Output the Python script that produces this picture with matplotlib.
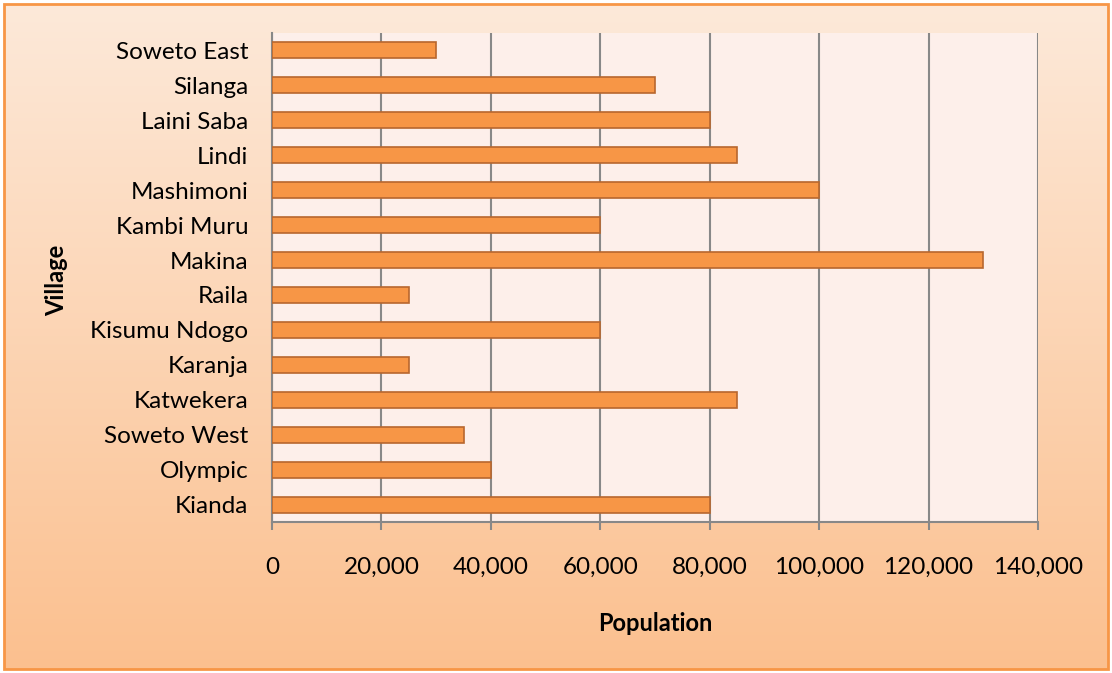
import matplotlib
matplotlib.use("Agg")
import matplotlib.pyplot as plt
import numpy as np
from matplotlib.patches import Rectangle
from matplotlib.colors import LinearSegmentedColormap
from matplotlib.ticker import FuncFormatter

villages = ["Kianda", "Olympic", "Soweto West", "Katwekera", "Karanja", "Kisumu Ndogo",
            "Raila", "Makina", "Kambi Muru", "Mashimoni", "Lindi", "Laini Saba",
            "Silanga", "Soweto East"]
population = [80000, 40000, 35000, 85000, 25000, 60000, 25000, 130000, 60000,
              100000, 85000, 80000, 70000, 30000]
x_ticks = [0, 20000, 40000, 60000, 80000, 100000, 120000, 140000]

plt.rcParams['font.family'] = ['Lato', 'DejaVu Sans']

W, H = 1112, 673
fig = plt.figure(figsize=(W / 100, H / 100), dpi=100)
fig.patch.set_facecolor("white")

# gradient background
bg = fig.add_axes([4 / W, 4 / H, (W - 8) / W, (H - 8) / H], zorder=0)
cmap = LinearSegmentedColormap.from_list("g", ["#FDE9D9", "#FBC08F"])
grad = np.linspace(0, 1, 256).reshape(-1, 1)
bg.imshow(grad, aspect="auto", cmap=cmap, extent=[0, 1, 0, 1], origin="upper")
bg.set_xlim(0, 1)
bg.set_ylim(0, 1)
bg.set_axis_off()
fig.add_artist(Rectangle((4 / W, 4 / H), (W - 8) / W, (H - 8) / H,
                         transform=fig.transFigure, fill=False,
                         edgecolor="#F79646", linewidth=2, zorder=5))

left, right, top, bottom = 272, 1038, 33, 522
ax = fig.add_axes([left / W, 1 - bottom / H, (right - left) / W, (bottom - top) / H], zorder=2)
ax.set_facecolor("#FDEFEA")
y = np.arange(len(villages))
ax.barh(y, population, height=0.46, color="#F79646", edgecolor="#B8672E", linewidth=1.2, zorder=3)
ax.set_yticks(y)
ax.set_yticklabels(villages, fontsize=17.5)
ax.set_ylim(-0.5, len(villages) - 0.5)
ax.set_xlim(0, 140000)
ax.set_xticks(x_ticks)
ax.xaxis.set_major_formatter(FuncFormatter(lambda v, p: f"{int(v):,}"))
ax.tick_params(axis="x", labelsize=17.5, length=6, color="#888888", width=1.5, pad=19)
ax.tick_params(axis="y", length=0, pad=17)
ax.grid(axis="x", color="#888888", linewidth=1.5, zorder=1)
ax.set_axisbelow(True)
for s in ["top", "right"]:
    ax.spines[s].set_visible(False)
for s in ["left", "bottom"]:
    ax.spines[s].set_color("#888888")
    ax.spines[s].set_linewidth(1.5)

ax.set_xlabel("Population", fontsize=17, fontweight="bold", labelpad=25)
fig.text(57 / W, 1 - 280 / H, "Village", fontsize=17, fontweight="bold",
         rotation=90, ha="center", va="center")

fig.savefig("out.png", dpi=100)
